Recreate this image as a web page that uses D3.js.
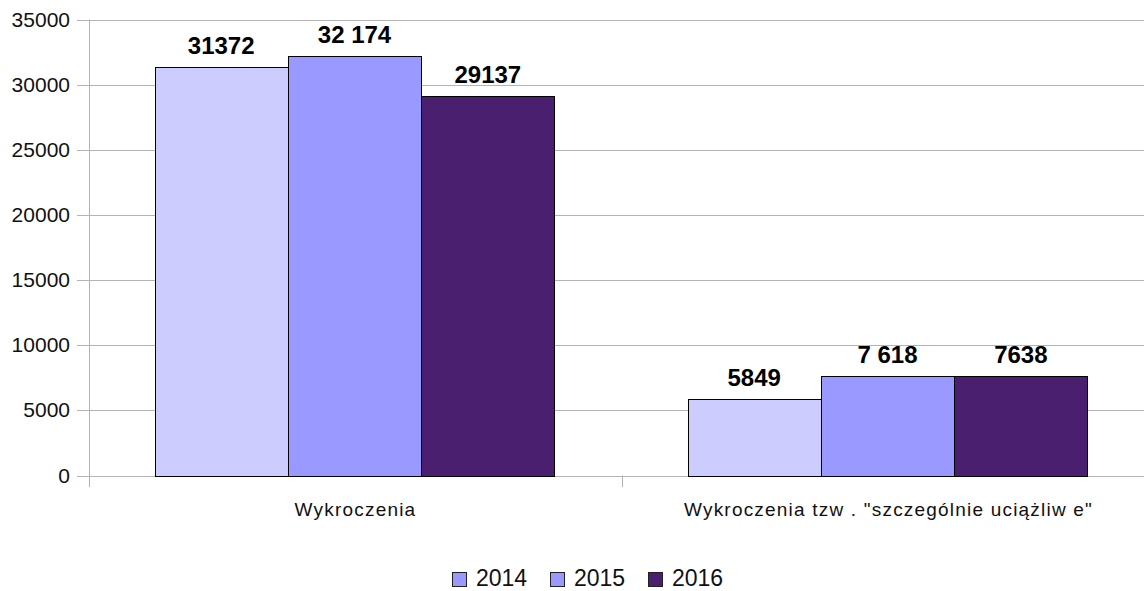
<!DOCTYPE html>
<html>
<head>
<meta charset="utf-8">
<script src="https://cdn.jsdelivr.net/npm/d3@7"></script>
<style>
  body { margin: 0; background: #fff; }
  text { font-family: "Liberation Sans", Arial, sans-serif; }
</style>
</head>
<body>
<div id="chart"></div>
<script>
// data
let categories = ['Wykroczenia', 'Wykroczenia tzw . "szczególnie uciążliw e"'];
let years = ['2014', '2015', '2016'];
let values2014 = [31372, 5849];
let values2015 = [32174, 7618];
let values2016 = [29137, 7638];
let labels2014 = ['31372', '5849'];
let labels2015 = ['32 174', '7 618'];
let labels2016 = ['29137', '7638'];
let yTicks = [0, 5000, 10000, 15000, 20000, 25000, 30000, 35000];

let barColors = ['#ccccff', '#9999ff', '#4b1f6f'];
let legendColors = ['#9999ff', '#9999ff', '#4b1f6f'];

let width = 1144, height = 591;

let svg = d3.select('#chart')
    .append('svg')
    .attr('width', width)
    .attr('height', height);

let x = d3.scaleBand()
    .domain(categories)
    .range([89, 1155]);

let xInner = d3.scaleBand()
    .domain(years)
    .range([65.5, 465.5]);

let y = d3.scaleLinear()
    .domain([0, 35000])
    .range([475.5, 19.5]);

// gridlines
svg.append('g')
    .selectAll('line')
    .data(yTicks)
    .enter().append('line')
    .attr('x1', 77)
    .attr('x2', width)
    .attr('y1', function(d){ return Math.round(y(d)) + 0.5; })
    .attr('y2', function(d){ return Math.round(y(d)) + 0.5; })
    .style('stroke', '#b3b3b3')
    .style('stroke-width', 1);

// y tick labels
svg.append('g')
    .selectAll('text')
    .data(yTicks)
    .enter().append('text')
    .attr('x', 70)
    .attr('y', function(d){ return y(d) + 7; })
    .attr('text-anchor', 'end')
    .style('font-size', '21px')
    .style('fill', '#111')
    .text(function(d){ return d; });

// y axis line
svg.append('line')
    .attr('x1', 89.5).attr('x2', 89.5)
    .attr('y1', y(35000)).attr('y2', 487)
    .style('stroke', '#b3b3b3');

// category separators below the axis
svg.append('g')
    .selectAll('line')
    .data(categories.slice(1))
    .enter().append('line')
    .attr('x1', function(d){ return Math.round(x(d)) + 0.5; })
    .attr('x2', function(d){ return Math.round(x(d)) + 0.5; })
    .attr('y1', y(0))
    .attr('y2', 487)
    .style('stroke', '#b3b3b3');

// bars
let series = [
    {year: '2014', values: values2014, labels: labels2014},
    {year: '2015', values: values2015, labels: labels2015},
    {year: '2016', values: values2016, labels: labels2016}
];

let groups = svg.selectAll('.cat')
    .data(categories)
    .enter().append('g')
    .attr('class', 'cat')
    .attr('transform', function(d){ return 'translate(' + x(d) + ',0)'; });

groups.each(function(cat, ci){
    let g = d3.select(this);
    series.forEach(function(s, si){
        let v = s.values[ci];
        g.append('rect')
            .attr('x', Math.round(xInner(s.year)) + 0.5)
            .attr('y', Math.round(y(v)) + 0.5)
            .attr('width', Math.round(xInner.bandwidth()))
            .attr('height', Math.round(y(0)) - Math.round(y(v)))
            .style('fill', barColors[si])
            .style('stroke', '#000')
            .style('stroke-width', 1);
        g.append('text')
            .attr('x', xInner(s.year) + xInner.bandwidth() / 2)
            .attr('y', y(v) - 13)
            .attr('text-anchor', 'middle')
            .style('font-size', '24px')
            .style('font-weight', 'bold')
            .style('fill', '#000')
            .text(s.labels[ci]);
    });
});

// category labels
svg.append('g')
    .selectAll('text')
    .data(categories)
    .enter().append('text')
    .attr('x', function(d){ return x(d) + x.bandwidth() / 2; })
    .attr('y', 516)
    .attr('text-anchor', 'middle')
    .style('font-size', '19px')
    .style('letter-spacing', '1.2px')
    .style('fill', '#111')
    .text(function(d){ return d; });

// legend
let legendX = [452, 550, 648];
let legend = svg.append('g')
    .selectAll('g')
    .data(years)
    .enter().append('g')
    .attr('transform', function(d, i){ return 'translate(' + legendX[i] + ',0)'; });

legend.append('rect')
    .attr('x', 0.5).attr('y', 572.5)
    .attr('width', 14).attr('height', 14)
    .style('fill', function(d, i){ return legendColors[i]; })
    .style('stroke', '#222');

legend.append('text')
    .attr('x', 24)
    .attr('y', 586)
    .style('font-size', '23px')
    .style('fill', '#111')
    .text(function(d){ return d; });
</script>
</body>
</html>
